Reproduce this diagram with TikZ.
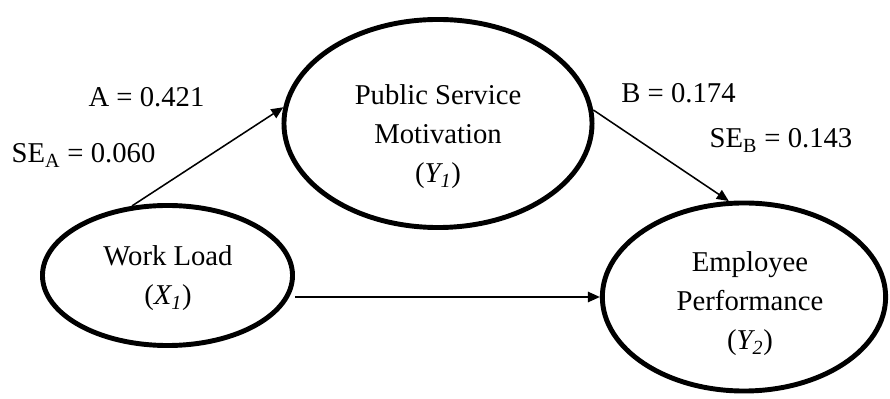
\documentclass[tikz,border=0pt]{standalone}
\usepackage{fontspec}
\setmainfont{Liberation Serif}
\usepackage{tikz}
\usetikzlibrary{positioning, arrows.meta, shapes.geometric}

\begin{document}
\begin{tikzpicture}[
        x=0.025cm, y=-0.025cm,
        construct/.style={
            ellipse,
            draw=black,
            line width=3.5pt,
            inner sep=0pt
        },
        constructtext/.style={
            anchor=base,
            align=center,
            inner sep=0pt,
            font=\fontsize{20.4}{28}\selectfont
        },
        coef/.style={
            anchor=base,
            inner sep=0pt,
            font=\fontsize{20.4}{24}\selectfont
        },
        connector/.style={
            -{Triangle[length=0.3cm, width=0.26cm]},
            line width=1.1pt
        }
    ]

    \useasboundingbox (0,0) rectangle (890,399);

    % latent variables
    \node[construct, minimum width=6.25cm, minimum height=3.5cm] (load) at (167.5,275.5) {};
    \node[construct, minimum width=7.7cm, minimum height=5.2cm] (psm) at (438,123.5) {};
    \node[construct, minimum width=7.08cm, minimum height=4.7cm] (perf) at (744,297) {};

    \node[constructtext] (loadtext) at (168,305) {Work Load\\(\textit{X\textsubscript{1}})};
    \node[constructtext] (psmtext) at (438,183) {Public Service\\Motivation\\(\textit{Y\textsubscript{1}})};
    \node[constructtext] (perftext) at (750,350) {Employee\\Performance\\(\textit{Y\textsubscript{2}})};

    % path coefficients
    \node[coef] (acoef) at (146.5,107) {A = 0.421};
    \node[coef] (aerr) at (83.5,163) {SE\textsubscript{A} = 0.060};
    \node[coef] (bcoef) at (678.5,103) {B = 0.174};
    \node[coef] (berr) at (781,148) {SE\textsubscript{B} = 0.143};

    \draw[connector] (load.117) -- (psm.174.5);
    \draw[connector] (psm.5) -- (perf.99.4);
    \draw[connector] (load.east |- perf.west) -- (perf.west);

\end{tikzpicture}
\end{document}
